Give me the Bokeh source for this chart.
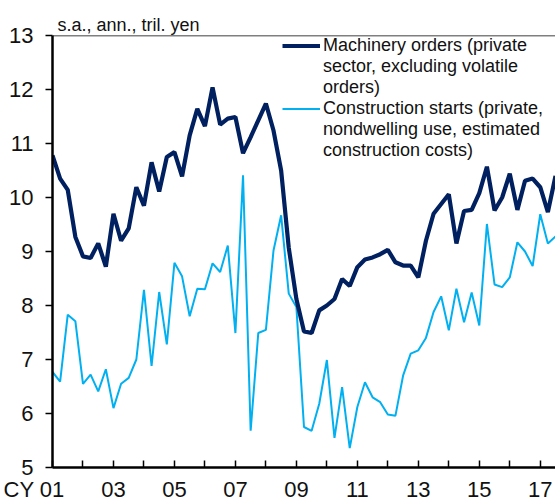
from bokeh.plotting import figure
from bokeh.models import ColumnDataSource, FixedTicker, Legend, LegendItem, Span
from bokeh.embed import file_html
from bokeh.resources import INLINE

# ---- data (quarterly, CY2001 Q1 .. CY2017 Q3), trillion yen, s.a., annualized
start_year = 2001
machinery = [10.78, 10.35, 10.14, 9.27, 8.91, 8.88, 9.15, 8.72,
             9.70, 9.20, 9.43, 10.19, 9.85, 10.65, 10.11, 10.75,
             10.84, 10.39, 11.15, 11.64, 11.32, 12.04, 11.35, 11.46,
             11.49, 10.82, 11.12, 11.43, 11.74, 11.24, 10.50, 9.07,
             8.12, 7.52, 7.49, 7.91, 8.00, 8.12, 8.49, 8.36,
             8.71, 8.85, 8.89, 8.95, 9.03, 8.80, 8.74, 8.74,
             8.52, 9.20, 9.70, 9.88, 10.06, 9.15, 9.75, 9.77,
             10.08, 10.57, 9.76, 10.00, 10.44, 9.77, 10.31, 10.35,
             10.19, 9.73, 10.40]
construction = [6.77, 6.59, 7.83, 7.71, 6.55, 6.72, 6.41, 6.82,
                6.10, 6.55, 6.66, 7.00, 8.29, 6.88, 8.25, 7.28,
                8.79, 8.54, 7.80, 8.31, 8.30, 8.78, 8.62, 9.11,
                7.49, 10.41, 5.68, 7.49, 7.55, 9.02, 9.67, 8.22,
                7.97, 5.75, 5.68, 6.18, 6.99, 5.55, 6.49, 5.36,
                6.12, 6.58, 6.30, 6.21, 5.98, 5.96, 6.70, 7.11,
                7.17, 7.40, 7.88, 8.17, 7.54, 8.31, 7.69, 8.24,
                7.63, 9.51, 8.39, 8.34, 8.52, 9.17, 9.00, 8.73,
                9.69, 9.15, 9.28]
tick_years = list(range(2001, 2018))
tick_labels = ["CY 01", "", "03", "", "05", "", "07", "", "09", "", "11", "", "13", "", "15", "", "17"]
y_ticks = [5, 6, 7, 8, 9, 10, 11, 12, 13]

machinery_label = ["Machinery orders (private", "sector, excluding volatile", "orders)"]
construction_label = ["Construction starts (private,", "nondwelling use, estimated", "construction costs)"]
unit_text = "s.a., ann., tril. yen"

x = [start_year + i / 4 for i in range(len(machinery))]
src = ColumnDataSource(dict(x=x, m=machinery, c=construction))

DARK = "#002060"
LIGHT = "#00B0F0"
FONT = "Liberation Sans"
TXT = "#111111"

p = figure(width=555, height=504, output_backend="svg", toolbar_location=None,
           x_range=(2001, 2017.5), y_range=(5, 13),
           min_border_left=52, min_border_right=0, min_border_top=35, min_border_bottom=37)
p.outline_line_color = None
p.grid.visible = False
p.background_fill_color = "white"
p.border_fill_color = "white"

# unit note as a left-aligned title just above the frame
p.title.text = unit_text
p.title.align = "left"
p.title.offset = 5
p.title.standoff = 1
p.title.text_font = FONT
p.title.text_font_size = "18px"
p.title.text_font_style = "normal"
p.title.text_color = TXT

r_c = p.line("x", "c", source=src, line_color=LIGHT, line_width=2)
r_m = p.line("x", "m", source=src, line_color=DARK, line_width=4.2)

# axes
pad = "\u00a0" * 6  # keeps "01" centred on its tick while "CY" sits to its left
p.xaxis.ticker = FixedTicker(ticks=tick_years)
p.xaxis.major_label_overrides = {y: (l + pad if l.startswith("CY") else l)
                                 for y, l in zip(tick_years, tick_labels)}
p.xaxis.minor_tick_line_color = None
p.xaxis.major_tick_in = 7
p.xaxis.major_tick_out = 0
p.xaxis.major_tick_line_width = 1.5
p.xaxis.axis_line_width = 2.5
p.xaxis.major_label_standoff = 9

p.yaxis.ticker = FixedTicker(ticks=y_ticks)
p.yaxis.minor_tick_line_color = None
p.yaxis.major_tick_in = 0
p.yaxis.major_tick_out = 7
p.yaxis.major_tick_line_width = 1.5
p.yaxis.axis_line_width = 2.5
p.yaxis.major_label_standoff = 12

for ax in (p.xaxis, p.yaxis):
    ax.axis_line_color = "black"
    ax.major_tick_line_color = "black"
    ax.major_label_text_font = FONT
    ax.major_label_text_font_size = "22px"
    ax.major_label_text_color = TXT

p.add_layout(Span(location=13, dimension="width", line_color="black", line_width=1.5))

items = [LegendItem(label=machinery_label[0], renderers=[r_m]),
         LegendItem(label=machinery_label[1], renderers=[]),
         LegendItem(label=machinery_label[2], renderers=[]),
         LegendItem(label=construction_label[0], renderers=[r_c]),
         LegendItem(label=construction_label[1], renderers=[]),
         LegendItem(label=construction_label[2], renderers=[])]
legend = Legend(items=items, location=(230, 306), orientation="vertical")
legend.label_text_font = FONT
legend.label_text_font_size = "18px"
legend.label_text_color = TXT
legend.label_text_line_height = 1.0
legend.label_height = 21
legend.glyph_height = 21
legend.glyph_width = 38
legend.label_standoff = 3
legend.padding = 0
legend.margin = 0
legend.spacing = 0
legend.border_line_color = None
legend.background_fill_alpha = 0
p.add_layout(legend)

open("out.html", "w").write(file_html(p, INLINE))
